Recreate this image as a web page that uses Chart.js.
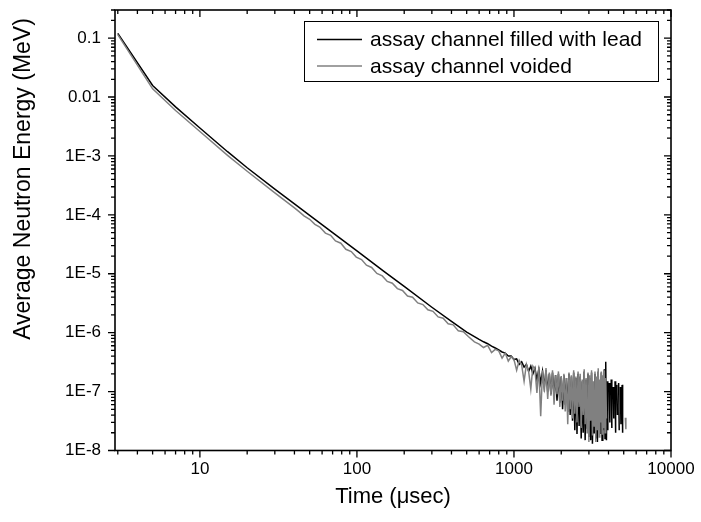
<!DOCTYPE html>
<html>
<head>
<meta charset="utf-8">
<script src="https://cdn.jsdelivr.net/npm/chart.js@4.4.1/dist/chart.umd.min.js"></script>
<style>
  html, body { margin: 0; padding: 0; background: #fff; }
  #wrap { width: 701px; height: 522px; }
</style>
</head>
<body>
<div id="wrap"><canvas id="chart" width="701" height="522"></canvas></div>
<script>
// axis ticks
const xTickValues = [10, 100, 1000, 10000];
const xTickLabels = ['10', '100', '1000', '10000'];
const yTickValues = [0.1, 0.01, 1e-3, 1e-4, 1e-5, 1e-6, 1e-7, 1e-8];
const yTickLabels = ['0.1', '0.01', '1E-3', '1E-4', '1E-5', '1E-6', '1E-7', '1E-8'];

const seriesNames = ['assay channel filled with lead', 'assay channel voided'];

// early part of the decay, lead filled channel
const leadTimes = [3, 5, 7, 10, 15, 20, 30, 40, 50, 70, 100, 150, 200, 300, 400, 500];
const leadValues = [0.12, 0.0157, 0.0068, 0.00298, 0.00118, 6.3e-4, 2.74e-4, 1.53e-4, 9.8e-5, 4.98e-5,
  2.44e-5, 1.08e-5, 6.1e-6, 2.7e-6, 1.55e-6, 1.02e-6];

// early part, voided channel
const voidTimes = [3, 5, 7, 10, 15, 20, 30, 40,
  43, 46, 50, 54, 58, 63, 68, 73, 79, 85,
  92, 99, 107, 115, 124, 134, 145, 156, 168, 181,
  195, 210, 226, 244, 263, 283, 305, 329, 354, 381,
  410, 442, 476, 512];
const voidValues = [0.115, 0.0138, 0.0059, 0.0026, 0.00102, 5.5e-4, 2.36e-4, 1.31e-4,
  1.12e-4, 9.6e-5, 8.4e-5, 6.9e-5, 6.2e-5, 4.9e-5, 4.5e-5, 3.6e-5, 3.3e-5, 2.6e-5,
  2.38e-5, 1.92e-5, 1.74e-5, 1.40e-5, 1.28e-5, 1.01e-5, 9.2e-6, 7.4e-6, 6.9e-6, 5.6e-6,
  5.2e-6, 4.2e-6, 4.0e-6, 3.2e-6, 3.0e-6, 2.45e-6, 2.3e-6, 1.85e-6, 1.76e-6, 1.42e-6,
  1.36e-6, 1.08e-6, 1.04e-6, 0.86e-6];

// noisy tail, shared time bins (usec)
const tailTimes = [560, 600, 640, 680, 720, 760, 800, 840, 880, 920,
  960, 1000, 1040, 1080, 1120, 1160, 1200, 1240, 1280, 1320,
  1360, 1400, 1440, 1480, 1520, 1560, 1600, 1640, 1680, 1720,
  1760, 1800, 1840, 1880, 1920, 1960, 2000, 2040, 2080, 2120,
  2160, 2200, 2240, 2280, 2320, 2360, 2400, 2440, 2480, 2520,
  2560, 2600, 2640, 2680, 2720, 2760, 2800, 2840, 2880, 2920,
  2960, 3000, 3040, 3080, 3120, 3160, 3200, 3240, 3280, 3320,
  3360, 3400, 3440, 3480, 3520, 3560, 3600, 3640, 3680, 3720,
  3760, 3800, 3840, 3880, 3920, 3960, 4000, 4040, 4080, 4120,
  4160, 4200, 4240, 4280, 4320, 4360, 4400, 4440, 4480, 4520,
  4560, 4600, 4640, 4680, 4720, 4760, 4800, 4840, 4880, 4920,
  4960, 5000, 5040, 5080, 5120, 5160, 5200];

const leadTail = [8.6e-7, 7.7e-7, 7.0e-7, 6.5e-7, 5.9e-7, 5.5e-7, 5.1e-7, 4.7e-7, 4.5e-7, 4.0e-7,
  4.0e-7, 3.5e-7, 3.6e-7, 2.9e-7, 3.2e-7, 2.6e-7, 2.9e-7, 2.2e-7, 2.7e-7, 2.0e-7,
  2.5e-7, 1.6e-7, 2.4e-7, 1.4e-7, 2.2e-7, 1.2e-7, 2.3e-7, 1.0e-7, 2.0e-7, 9.0e-8,
  2.1e-7, 8.0e-8, 1.9e-7, 7.0e-8, 2.0e-7, 6.5e-8, 1.8e-7, 5.0e-8, 1.9e-7, 6.0e-8,
  1.7e-7, 4.5e-8, 2.0e-7, 4.0e-8, 1.8e-7, 3.2e-8, 2.1e-7, 2.2e-8, 1.7e-7, 1.9e-8,
  2.0e-7, 2.6e-8, 1.8e-7, 1.6e-8, 1.5e-7, 2.0e-8, 2.2e-7, 1.5e-8, 1.6e-7, 2.4e-8,
  2.0e-7, 1.7e-8, 1.7e-7, 1.5e-8, 2.1e-7, 1.3e-8, 1.4e-7, 2.0e-8, 2.0e-7, 1.6e-8,
  1.6e-7, 1.4e-8, 2.2e-7, 2.3e-8, 1.5e-7, 1.9e-8, 2.1e-7, 1.5e-8, 1.8e-7, 2.2e-8,
  2.4e-7, 1.6e-8, 3.2e-7, 1.5e-8, 1.5e-7, 2.2e-8, null, 1.4e-7, 3.0e-8, null,
  1.6e-7, 2.4e-8, null, 1.2e-7, 3.5e-8, null, 1.5e-7, 2.0e-8, null, 1.3e-7,
  4.0e-8, null, 1.4e-7, 2.2e-8, null, 1.2e-7, 2.8e-8, null, 1.3e-7, 2.0e-8,
  null, null, null, null, null, null, null];

const voidTail = [7.0e-7, 6.4e-7, 5.6e-7, 6.1e-7, 4.6e-7, 5.2e-7, 4.9e-7, 3.7e-7, 4.5e-7, 3.3e-7,
  3.9e-7, 3.5e-7, 2.3e-7, 3.4e-7, 2.8e-7, 1.5e-7, 2.9e-7, 2.2e-7, 1.1e-7, 2.7e-7,
  2.4e-7, 9.5e-8, 2.6e-7, 3.8e-8, 2.3e-7, 1.0e-7, 2.5e-7, 7.5e-8, 2.1e-7, 8.5e-8,
  2.3e-7, 6.0e-8, 1.9e-7, 9.0e-8, 2.2e-7, 5.5e-8, 1.8e-7, 7.0e-8, 2.0e-7, 4.6e-8,
  1.7e-7, 2.8e-8, 2.1e-7, 5.0e-8, 1.9e-7, 3.5e-8, 2.3e-7, 4.2e-8, 1.8e-7, 3.0e-8,
  2.2e-7, 5.5e-8, 2.0e-7, 2.4e-8, 1.6e-7, 4.0e-8, 2.4e-7, 2.8e-8, 1.7e-7, 2.0e-8,
  2.1e-7, 1.4e-8, 1.9e-7, 3.2e-8, 2.3e-7, 1.8e-8, 1.5e-7, 2.6e-8, 2.2e-7, 1.4e-8,
  1.8e-7, 2.2e-8, 2.5e-7, 1.7e-8, 1.6e-7, 3.0e-8, 2.2e-7, 1.9e-8, 1.9e-7, 2.4e-8,
  2.3e-7, 2.0e-8, 1.7e-7, 3.5e-8, null, null, null, null, null, null,
  null, null, null, null, null, null, null, null, null, null,
  null, null, null, null, null, null, null, null, null, null,
  null, null, null, null, 3.6e-8, 2.3e-8, null];

const FONT = "'Liberation Sans', Arial, Helvetica, sans-serif";

function toPoints(times, values) {
    return times.map((t, i) => ({ x: t, y: values[i] }));
}

const leadData = toPoints(leadTimes, leadValues).concat(toPoints(tailTimes, leadTail));
const voidData = toPoints(voidTimes, voidValues).concat(toPoints(tailTimes, voidTail));

// frame, ticks on all four sides, axis titles and boxed legend (Origin style)
const originFrame = {
    id: 'originFrame',
    afterDraw(chart) {
        const { ctx, chartArea: a, scales: { x, y } } = chart;
        ctx.save();
        ctx.strokeStyle = '#000';
        ctx.lineWidth = 1.6;
        ctx.strokeRect(a.left, a.top, a.right - a.left, a.bottom - a.top);

        ctx.lineWidth = 1.3;
        ctx.beginPath();
        const logTicks = (scale, fn) => {
            const lo = Math.floor(Math.log10(scale.min));
            const hi = Math.ceil(Math.log10(scale.max));
            for (let d = lo; d <= hi; d++) {
                for (let k = 1; k <= 9; k++) {
                    const v = k * Math.pow(10, d);
                    if (v < scale.min * 0.999 || v > scale.max * 1.001) continue;
                    fn(scale.getPixelForValue(v), k === 1 ? 7 : 4);
                }
            }
        };
        logTicks(x, (px, len) => {
            ctx.moveTo(px, a.bottom); ctx.lineTo(px, a.bottom + len);
            ctx.moveTo(px, a.top); ctx.lineTo(px, a.top + len);
        });
        logTicks(y, (py, len) => {
            ctx.moveTo(a.left, py); ctx.lineTo(a.left - len, py);
            ctx.moveTo(a.right, py); ctx.lineTo(a.right - len, py);
        });
        ctx.stroke();

        // axis titles
        ctx.fillStyle = '#000';
        ctx.font = '22px ' + FONT;
        ctx.textAlign = 'center';
        ctx.textBaseline = 'middle';
        ctx.fillText('Time (\u03bcsec)', (a.left + a.right) / 2, 497);
        ctx.save();
        ctx.translate(24, 179);
        ctx.rotate(-Math.PI / 2);
        ctx.font = '23px ' + FONT;
        ctx.fillText('Average Neutron Energy (MeV)', 0, 0);
        ctx.restore();

        // legend box
        ctx.lineWidth = 1;
        ctx.strokeRect(304.5, 21.5, 354, 60);
        ctx.font = '21px ' + FONT;
        ctx.textAlign = 'left';
        chart.data.datasets.forEach((ds, i) => {
            const ly = 39.5 + i * 26.5;
            ctx.strokeStyle = ds.borderColor;
            ctx.lineWidth = ds.borderWidth;
            ctx.beginPath();
            ctx.moveTo(317, ly);
            ctx.lineTo(362, ly);
            ctx.stroke();
            ctx.fillText(ds.label, 370, ly + 1);
        });
        ctx.restore();
    }
};

new Chart(document.getElementById('chart'), {
    type: 'line',
    data: {
        datasets: [
            {
                label: seriesNames[0],
                data: leadData,
                borderColor: '#000000',
                borderWidth: 1.5,
                pointRadius: 0,
                tension: 0,
                spanGaps: false,
                order: 1
            },
            {
                label: seriesNames[1],
                data: voidData,
                borderColor: '#808080',
                borderWidth: 1.5,
                pointRadius: 0,
                tension: 0,
                spanGaps: false,
                order: 0
            }
        ]
    },
    options: {
        responsive: false,
        animation: false,
        devicePixelRatio: 1,
        layout: { padding: { left: 0, right: 30, top: 10, bottom: 0 } },
        plugins: {
            legend: { display: false },
            tooltip: { enabled: false }
        },
        scales: {
            x: {
                type: 'logarithmic',
                min: 2.88,
                max: 10000,
                grid: { display: false, drawTicks: false },
                border: { display: false },
                afterBuildTicks: scale => {
                    scale.ticks = xTickValues.map(v => ({ value: v }));
                },
                afterFit: scale => {
                    scale.height = 71.5;
                    scale.paddingLeft = 0;
                    scale.paddingRight = 0;
                },
                ticks: {
                    autoSkip: false,
                    maxRotation: 0,
                    padding: 9,
                    color: '#000',
                    font: { family: FONT, size: 17 },
                    callback: value => xTickLabels[xTickValues.indexOf(value)]
                }
            },
            y: {
                type: 'logarithmic',
                min: 1e-8,
                max: 0.3,
                grid: { display: false, drawTicks: false },
                border: { display: false },
                afterBuildTicks: scale => {
                    scale.ticks = yTickValues.map(v => ({ value: v }));
                },
                afterFit: scale => {
                    scale.width = 115;
                    scale.paddingTop = 0;
                    scale.paddingBottom = 0;
                },
                ticks: {
                    autoSkip: false,
                    padding: 14,
                    color: '#000',
                    font: { family: FONT, size: 17 },
                    callback: value => yTickLabels[yTickValues.indexOf(value)]
                }
            }
        }
    },
    plugins: [originFrame]
});
</script>
</body>
</html>
